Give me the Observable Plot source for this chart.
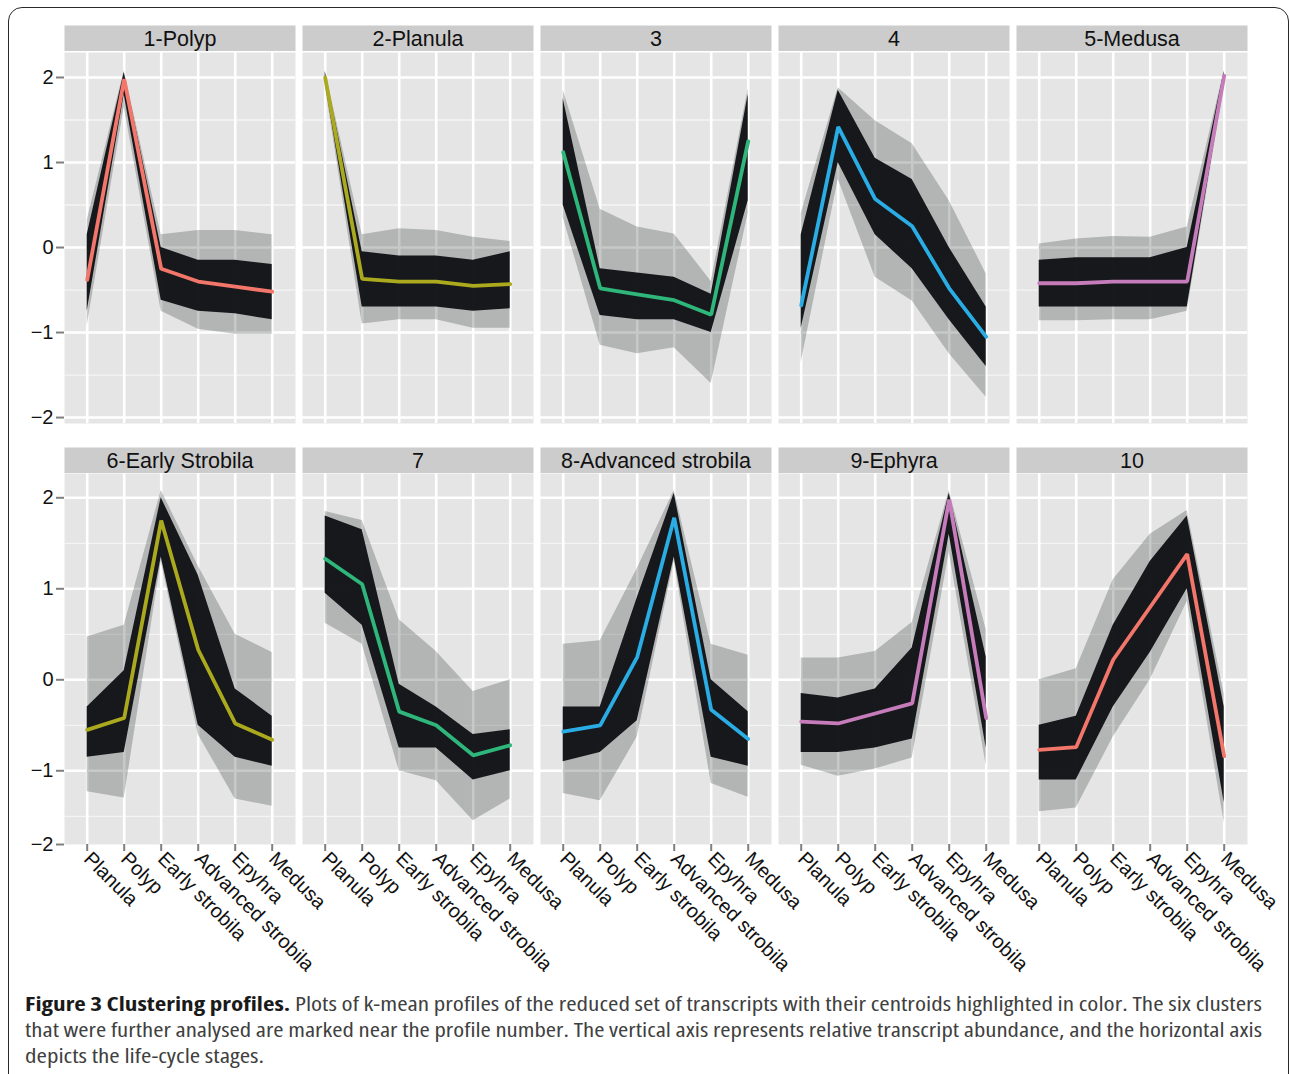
<!DOCTYPE html>
<html><head><meta charset="utf-8">
<script src="https://cdn.jsdelivr.net/npm/d3@7"></script>
<script src="https://cdn.jsdelivr.net/npm/@observablehq/plot@0.6"></script>
<style>
html,body{margin:0;padding:0;background:#fff;width:1290px;height:1074px;overflow:hidden;position:relative;}
#frame{position:absolute;left:8px;top:7px;width:1281px;height:1120px;border:1.6px solid #2a2a2a;border-radius:14px;box-sizing:border-box;z-index:10;pointer-events:none;background:transparent;}
.chart{position:absolute;left:0;}
.chart svg{display:block;}
.chart svg, .chart svg text{font-family:"Liberation Sans", Arial, Helvetica, sans-serif !important;}
#caption{position:absolute;left:25px;top:991px;font-family:"Open Sans",sans-serif;font-stretch:75%;font-size:19px;color:#404040;line-height:26px;}
#caption div{white-space:nowrap;transform-origin:0 0;width:max-content;}
#caption b{color:#1a1a1a;font-weight:700;}
</style></head><body>
<div id="frame"></div>
<div id="strip1" class="chart" style="top:25px"></div>
<div id="row1" class="chart" style="top:51.7px"></div>
<div id="strip2" class="chart" style="top:447px"></div>
<div id="row2" class="chart" style="top:473px"></div>
<div id="caption">
<div id="cap1"><b>Figure 3 Clustering profiles.</b> Plots of k-mean profiles of the reduced set of transcripts with their centroids highlighted in color. The six clusters</div>
<div id="cap2">that were further analysed are marked near the profile number. The vertical axis represents relative transcript abundance, and the horizontal axis</div>
<div id="cap3">depicts the life-cycle stages.</div>
</div>
<script>
// ---------------- data ----------------
const stages = ["Planula", "Polyp", "Early strobila", "Advanced strobila", "Epyhra", "Medusa"];
const clusters = ["1-Polyp", "2-Planula", "3", "4", "5-Medusa",
                  "6-Early Strobila", "7", "8-Advanced strobila", "9-Ephyra", "10"];
const centroidColors = ["#F3766A", "#ABAA1E", "#2EB67B", "#2AADE4", "#C67CBA",
                        "#ABAA1E", "#2EB67B", "#2AADE4", "#C67CBA", "#F3766A"];
// centroid profile per cluster (one value per stage)
const centroids = [
  [-0.38, 1.98, -0.25, -0.40, -0.46, -0.52],
  [2.00, -0.37, -0.40, -0.40, -0.45, -0.43],
  [1.12, -0.48, -0.55, -0.62, -0.79, 1.25],
  [-0.68, 1.42, 0.57, 0.25, -0.48, -1.05],
  [-0.42, -0.42, -0.40, -0.40, -0.40, 2.02],
  [-0.55, -0.42, 1.75, 0.33, -0.48, -0.66],
  [1.33, 1.05, -0.35, -0.50, -0.83, -0.72],
  [-0.57, -0.50, 0.25, 1.78, -0.33, -0.65],
  [-0.46, -0.48, -0.37, -0.26, 1.98, -0.42],
  [-0.77, -0.74, 0.22, 0.80, 1.38, -0.84]
];
// faint outer extent of the member transcript profiles
const outerLow = [
  [-0.92, 1.65, -0.75, -0.96, -1.02, -1.02],
  [1.90, -0.90, -0.85, -0.85, -0.95, -0.95],
  [0.35, -1.15, -1.25, -1.18, -1.60, 0.40],
  [-1.35, 0.80, -0.35, -0.63, -1.25, -1.76],
  [-0.86, -0.86, -0.85, -0.85, -0.75, 1.90],
  [-1.23, -1.30, 1.30, -0.60, -1.31, -1.39],
  [0.62, 0.39, -1.00, -1.11, -1.55, -1.31],
  [-1.25, -1.33, -0.63, 1.30, -1.14, -1.29],
  [-0.94, -1.06, -0.98, -0.86, 1.40, -0.94],
  [-1.45, -1.41, -0.63, 0.00, 0.86, -1.57]
];
const outerHigh = [
  [0.32, 2.08, 0.15, 0.20, 0.20, 0.15],
  [2.08, 0.15, 0.22, 0.20, 0.12, 0.07],
  [1.85, 0.45, 0.24, 0.16, -0.40, 1.87],
  [0.40, 1.88, 1.49, 1.22, 0.55, -0.31],
  [0.04, 0.10, 0.13, 0.12, 0.24, 2.08],
  [0.47, 0.60, 2.08, 1.25, 0.50, 0.30],
  [1.85, 1.75, 0.66, 0.31, -0.13, 0.00],
  [0.39, 0.43, 1.22, 2.08, 0.39, 0.27],
  [0.24, 0.24, 0.31, 0.63, 2.08, 0.55],
  [0.00, 0.12, 1.10, 1.60, 1.86, -0.16]
];
// dense core of the member transcript profiles
const coreLow = [
  [-0.75, 1.80, -0.62, -0.75, -0.78, -0.85],
  [1.95, -0.70, -0.70, -0.70, -0.75, -0.72],
  [0.50, -0.80, -0.85, -0.85, -1.00, 0.55],
  [-0.95, 1.00, 0.15, -0.25, -0.85, -1.40],
  [-0.70, -0.70, -0.70, -0.70, -0.70, 1.95],
  [-0.85, -0.80, 1.35, -0.50, -0.85, -0.95],
  [0.95, 0.60, -0.75, -0.75, -1.10, -1.00],
  [-0.90, -0.80, -0.45, 1.35, -0.85, -0.95],
  [-0.80, -0.80, -0.75, -0.65, 1.60, -0.75],
  [-1.10, -1.10, -0.30, 0.30, 1.00, -1.35]
];
const coreHigh = [
  [0.15, 2.06, 0.00, -0.15, -0.15, -0.20],
  [2.07, -0.05, -0.10, -0.10, -0.15, -0.05],
  [1.75, -0.25, -0.30, -0.35, -0.55, 1.80],
  [0.15, 1.85, 1.05, 0.80, 0.00, -0.70],
  [-0.15, -0.12, -0.12, -0.12, 0.00, 2.07],
  [-0.30, 0.10, 2.00, 1.15, -0.10, -0.40],
  [1.80, 1.65, -0.05, -0.30, -0.60, -0.55],
  [-0.30, -0.30, 0.90, 2.05, 0.00, -0.35],
  [-0.15, -0.20, -0.10, 0.35, 2.05, 0.25],
  [-0.50, -0.40, 0.60, 1.30, 1.80, -0.30]
];
const yTicksTop = [-2, -1, 0, 1, 2];
// in the reference the lower row's bottom edge carries the "−2" label
const yTicksBottom = [-1.81, -1, 0, 1, 2];
const yMinorTicks = [-1.5, -0.5, 0.5, 1.5];

// ---------------- build tables ----------------
const table = [];
clusters.forEach((c, i) => stages.forEach((s, j) => table.push({
  cluster: c, row: i < 5 ? 0 : 1, stage: s, color: centroidColors[i],
  v: centroids[i][j], oLo: outerLow[i][j], oHi: outerHigh[i][j],
  cLo: coreLow[i][j], cHi: coreHigh[i][j]
})));

const FONT = '"Liberation Sans", Arial, Helvetica, sans-serif';
const W = 1290, ML = 63.3, MR = 43.3, PAD = 0.0307;
const fmtY = d => (d < -1.8 ? "\u22122" : d < 0 ? "\u2212" + Math.abs(d) : String(d));

function stripChart(rowNames) {
  return Plot.plot({
    width: W, height: 26, marginLeft: ML, marginRight: MR, marginTop: 0, marginBottom: 0,
    style: {fontFamily: FONT, background: "transparent"},
    fx: {domain: rowNames, axis: null, paddingInner: PAD, paddingOuter: 0},
    marks: [
      Plot.frame({fill: "#cccccc", stroke: null}),
      Plot.text(rowNames, {fx: d => d, text: d => d, frameAnchor: "middle", fill: "#111", fontSize: 21.5, dy: 1})
    ]
  });
}

function rowChart(r, yDomain, ticks, showX) {
  const rowNames = clusters.slice(r * 5, r * 5 + 5);
  const data = table.filter(d => d.row === r);
  const marks = [
    Plot.frame({fill: "#e5e5e5", stroke: null}),
    Plot.gridY({ticks: yMinorTicks, stroke: "#f4f4f4", strokeOpacity: 1, strokeWidth: 1.3}),
    Plot.gridY({ticks: [-2, -1, 0, 1, 2], stroke: "#ffffff", strokeOpacity: 1, strokeWidth: 2.6}),
    Plot.gridX({stroke: "#ffffff", strokeOpacity: 1, strokeWidth: 2.6}),
    Plot.areaY(data, {x: "stage", y1: "oLo", y2: "oHi", fx: "cluster", fill: "#15171b", fillOpacity: 0.24}),
    Plot.areaY(data, {x: "stage", y1: "cLo", y2: "cHi", fx: "cluster", fill: "#111317", fillOpacity: 0.97}),
    Plot.line(data, {x: "stage", y: "v", fx: "cluster", stroke: "color", strokeWidth: 3.8, strokeLinejoin: "miter"}),
    Plot.axisY({ticks, tickFormat: fmtY, anchor: "left", label: null, tickSize: 8, tickPadding: 3, fontSize: 20, fill: "#111", stroke: "#7f7f7f", strokeWidth: 2})
  ];
  if (showX) marks.push(Plot.axisX({anchor: "bottom", label: null, tickSize: 7, tickPadding: 4, tickRotate: 45, textAnchor: "start", fontSize: 20, fill: "#111", stroke: "#7f7f7f", strokeWidth: 2}));
  return Plot.plot({
    width: W, height: showX ? 521 : 371,
    marginLeft: ML, marginRight: MR, marginTop: 0, marginBottom: showX ? 150 : 0,
    style: {fontFamily: FONT, background: "transparent", overflow: "visible"},
    fx: {domain: rowNames, axis: null, paddingInner: PAD, paddingOuter: 0},
    x: {type: "point", domain: stages, padding: 0.6, axis: null},
    y: {domain: yDomain, axis: null},
    color: {type: "identity"},
    marks
  });
}

document.getElementById("strip1").appendChild(stripChart(clusters.slice(0, 5)));
document.getElementById("strip2").appendChild(stripChart(clusters.slice(5, 10)));
document.getElementById("row1").appendChild(rowChart(0, [-2.07, 2.294], yTicksTop, false));
document.getElementById("row2").appendChild(rowChart(1, [-1.81, 2.267], yTicksBottom, true));

// fit caption lines to the reference text width
const c1 = document.getElementById("cap1"), c2 = document.getElementById("cap2"), c3 = document.getElementById("cap3");
const target = 1237;
const s1 = target / c1.getBoundingClientRect().width;
const s2 = target / c2.getBoundingClientRect().width;
c1.style.transform = `scaleX(${s1})`;
c2.style.transform = `scaleX(${s2})`;
c3.style.transform = `scaleX(${s1})`;
</script>
</body></html>
